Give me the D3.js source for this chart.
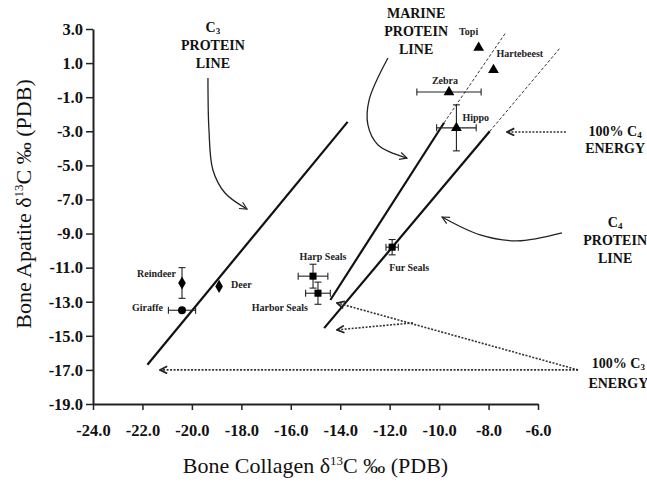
<!DOCTYPE html>
<html>
<head>
<meta charset="utf-8">
<script src="https://cdn.jsdelivr.net/npm/d3@7"></script>
<style>
body { margin: 0; background: #fff; }
text { font-family: "Liberation Serif", "Times New Roman", serif; }
</style>
</head>
<body>
<script>
const w = 647;
const h = 482;

// data
const species = ["Topi", "Hartebeest", "Zebra", "Hippo", "Fur Seals", "Harp Seals", "Harbor Seals", "Reindeer", "Deer", "Giraffe"];
const collagen = [-8.4, -7.8, -9.6, -9.3, -11.9, -15.1, -14.9, -20.4, -18.9, -20.4];
const apatite = [1.9, 0.6, -0.7, -2.8, -9.8, -11.5, -12.5, -11.9, -12.1, -13.5];
const collagenErr = [0, 0, 1.3, 0.8, 0.25, 0.6, 0.5, 0, 0, 0.55];
const apatiteErr = [0, 0, 0, 1.35, 0.45, 0.7, 0.65, 0.9, 0, 0];

const xTicks = [-24, -22, -20, -18, -16, -14, -12, -10, -8, -6];
const yTicks = [3, 1, -1, -3, -5, -7, -9, -11, -13, -15, -17, -19];

// reference lines (collagen, apatite)
const c3Line = [[-21.8, -16.7], [-13.7, -2.45]];
const marineSolid = [[-14.4, -12.9], [-9.8, -2.5]];
const marineDashed = [[-9.8, -2.5], [-7.3, 2.8]];
const c4Solid = [[-14.65, -14.55], [-7.95, -3.0]];
const c4Dashed = [[-7.95, -3.0], [-5.1, 1.9]];

// annotation arrows
const c3ProteinArrow = [[-19.35, 0.13], [-19.31, -2.9], [-19.15, -5.27], [-18.66, -6.62], [-17.77, -7.56]];
const marineArrow = [[-12.07, 1.3], [-12.83, -1.16], [-12.88, -2.63], [-12.47, -3.8], [-11.3, -4.57]];
const c4ProteinArrow = [[-5.03, -8.96], [-6.85, -9.43], [-8.34, -9.08], [-9.88, -8.03]];
const c4EnergyArrows = [[[-4.87, -3.04], [-7.25, -3.04]]];
const c3EnergyArrows = [
  [[-4.38, -17.0], [-21.29, -17.0]],
  [[-4.38, -17.0], [-14.13, -13.07]],
  [[-11.06, -14.24], [-14.13, -14.65]]
];

const noteText = [
  ["C_3", "PROTEIN", "LINE"],
  ["MARINE", "PROTEIN", "LINE"],
  ["100% C_4", "ENERGY"],
  ["C_4", "PROTEIN", "LINE"],
  ["100% C_3", "ENERGY"]
];
const noteX = [-19.15, -10.93, -2.88, -2.88, -2.75];
const noteY = [2.82, 3.65, -3.3, -8.61, -16.88];

// styling
const noteGap = [18, 18, 17, 18, 20];
const shapeOf = {
  "Topi": d3.symbolTriangle, "Hartebeest": d3.symbolTriangle, "Zebra": d3.symbolTriangle, "Hippo": d3.symbolTriangle,
  "Fur Seals": d3.symbolSquare, "Harp Seals": d3.symbolSquare, "Harbor Seals": d3.symbolSquare,
  "Reindeer": d3.symbolDiamond, "Deer": d3.symbolDiamond, "Giraffe": d3.symbolCircle
};
const sizeOf = {};
sizeOf[d3.symbolTriangle] = 55; sizeOf[d3.symbolSquare] = 75; sizeOf[d3.symbolDiamond] = 50; sizeOf[d3.symbolCircle] = 50;
const labelPos = {
  "Topi": [-10, -13, "middle"], "Hartebeest": [3, -13, "start"], "Zebra": [-4, -8, "middle"],
  "Hippo": [6, -7, "start"], "Fur Seals": [-3, 24, "start"], "Harp Seals": [10, -16, "middle"],
  "Harbor Seals": [-10, 18, "end"], "Reindeer": [-6, -6, "end"], "Deer": [12, 2, "start"],
  "Giraffe": [-19, 1, "end"]
};

const dataset = species.map((s, i) => ({
  name: s, x: collagen[i], y: apatite[i], ex: collagenErr[i], ey: apatiteErr[i]
}));

const xScale = d3.scaleLinear().domain([-24, -6]).range([93, 538]);
const yScale = d3.scaleLinear().domain([-19, 3]).range([404, 29]);

const svg = d3.select("body")
  .append("svg")
  .attr("width", w)
  .attr("height", h);

svg.append("rect").attr("width", w).attr("height", h).attr("fill", "#fff");

const defs = svg.append("defs");
defs.append("marker")
  .attr("id", "open")
  .attr("viewBox", "0 0 10 10")
  .attr("refX", 9).attr("refY", 5)
  .attr("markerWidth", 9).attr("markerHeight", 9)
  .attr("markerUnits", "userSpaceOnUse")
  .attr("orient", "auto")
  .append("path")
  .attr("d", "M1,1 L9,5 L1,9")
  .attr("fill", "none")
  .attr("stroke", "#222")
  .attr("stroke-width", 1.3);
defs.append("marker")
  .attr("id", "dothead")
  .attr("viewBox", "0 0 10 10")
  .attr("refX", 9).attr("refY", 5)
  .attr("markerWidth", 9).attr("markerHeight", 9)
  .attr("markerUnits", "userSpaceOnUse")
  .attr("orient", "auto")
  .append("path")
  .attr("d", "M1,1 L9,5 L1,9")
  .attr("fill", "none")
  .attr("stroke", "#222")
  .attr("stroke-width", 2);

const line = d3.line().x(d => xScale(d[0])).y(d => yScale(d[1]));
const curve = d3.line().x(d => xScale(d[0])).y(d => yScale(d[1])).curve(d3.curveCatmullRom);

// axes
const xAxis = d3.axisBottom(xScale).tickValues(xTicks).tickSize(6).tickSizeOuter(0).tickPadding(14).tickFormat(d => d.toFixed(1));
const yAxis = d3.axisLeft(yScale).tickValues(yTicks).tickSize(7).tickSizeOuter(0).tickPadding(3).tickFormat(d => d.toFixed(1));

const gx = svg.append("g").attr("transform", "translate(0," + yScale(-19) + ")").call(xAxis);
const gy = svg.append("g").attr("transform", "translate(" + xScale(-24) + ",0)").call(yAxis);
[gx, gy].forEach(g => {
  g.select(".domain").attr("stroke", "#222").attr("stroke-width", 2);
  g.selectAll(".tick line").attr("stroke", "#222").attr("stroke-width", 1.5);
  g.selectAll(".tick text")
    .attr("fill", "#111")
    .attr("font-size", "16.5px")
    .attr("font-weight", "bold")
    .style("font-family", '"Liberation Serif", serif');
});

// axis titles
const xt = svg.append("text")
  .attr("x", (xScale(-24) + xScale(-6)) / 2)
  .attr("y", 473)
  .attr("text-anchor", "middle")
  .attr("font-size", "22px")
  .attr("fill", "#111");
xt.append("tspan").text("Bone Collagen δ");
xt.append("tspan").text("13").attr("font-size", "13px").attr("dy", -8);
xt.append("tspan").text("C ‰ (PDB)").attr("dy", 8);

const yt = svg.append("text")
  .attr("transform", "translate(31," + 204 + ") rotate(-90)")
  .attr("text-anchor", "middle")
  .attr("font-size", "22px")
  .attr("fill", "#111");
yt.append("tspan").text("Bone Apatite δ");
yt.append("tspan").text("13").attr("font-size", "13px").attr("dy", -8);
yt.append("tspan").text("C ‰ (PDB)").attr("dy", 8);

// reference lines
[c3Line, marineSolid, c4Solid].forEach(l => {
  svg.append("path").attr("d", line(l)).attr("stroke", "#111").attr("stroke-width", 2.2).attr("fill", "none");
});
[marineDashed, c4Dashed].forEach(l => {
  svg.append("path").attr("d", line(l)).attr("stroke", "#333").attr("stroke-width", 1).attr("stroke-dasharray", "3,2").attr("fill", "none");
});

// curved arrows
[c3ProteinArrow, marineArrow, c4ProteinArrow].forEach(a => {
  svg.append("path").attr("d", curve(a)).attr("stroke", "#222").attr("stroke-width", 1.3)
    .attr("fill", "none").attr("marker-end", "url(#open)");
});
// dotted energy arrows
c4EnergyArrows.concat(c3EnergyArrows).forEach(a => {
  svg.append("path").attr("d", line(a)).attr("stroke", "#333").attr("stroke-width", 1.6)
    .attr("stroke-dasharray", "2,1.5").attr("fill", "none").attr("marker-end", "url(#dothead)");
});

// notes
noteText.forEach((lines, i) => {
  lines.forEach((ln, j) => {
    const t = svg.append("text")
      .attr("x", xScale(noteX[i]))
      .attr("y", yScale(noteY[i]) + j * noteGap[i])
      .attr("text-anchor", "middle")
      .attr("font-size", "14px")
      .attr("font-weight", "bold")
      .attr("fill", "#111");
    if (ln.includes("_")) {
      const parts = ln.split("_");
      t.append("tspan").text(parts[0]);
      t.append("tspan").text(parts[1]).attr("font-size", "9px").attr("dy", 2);
    } else {
      t.text(ln);
    }
  });
});

// error bars
const cap = 3.5;
const eb = svg.append("g").attr("stroke", "#222").attr("stroke-width", 1.1);
dataset.filter(d => d.ex > 0).forEach(d => {
  const x0 = xScale(d.x - d.ex), x1 = xScale(d.x + d.ex), yy = yScale(d.y);
  eb.append("line").attr("x1", x0).attr("x2", x1).attr("y1", yy).attr("y2", yy);
  eb.append("line").attr("x1", x0).attr("x2", x0).attr("y1", yy - cap).attr("y2", yy + cap);
  eb.append("line").attr("x1", x1).attr("x2", x1).attr("y1", yy - cap).attr("y2", yy + cap);
});
dataset.filter(d => d.ey > 0).forEach(d => {
  const y0 = yScale(d.y - d.ey), y1 = yScale(d.y + d.ey), xx = xScale(d.x);
  eb.append("line").attr("x1", xx).attr("x2", xx).attr("y1", y0).attr("y2", y1);
  eb.append("line").attr("x1", xx - cap).attr("x2", xx + cap).attr("y1", y0).attr("y2", y0);
  eb.append("line").attr("x1", xx - cap).attr("x2", xx + cap).attr("y1", y1).attr("y2", y1);
});

// markers
svg.selectAll(".pt")
  .data(dataset)
  .enter()
  .append("path")
  .attr("class", "pt")
  .attr("transform", d => "translate(" + xScale(d.x) + "," + yScale(d.y) + ")")
  .attr("d", d => d3.symbol().type(shapeOf[d.name]).size(sizeOf[shapeOf[d.name]])())
  .attr("fill", "#000");

// point labels
svg.selectAll(".lbl")
  .data(dataset)
  .enter()
  .append("text")
  .attr("class", "lbl")
  .attr("x", d => xScale(d.x) + labelPos[d.name][0])
  .attr("y", d => yScale(d.y) + labelPos[d.name][1])
  .attr("text-anchor", d => labelPos[d.name][2])
  .attr("font-size", "10px")
  .attr("font-weight", "bold")
  .attr("fill", "#222")
  .text(d => d.name);
</script>
</body>
</html>
